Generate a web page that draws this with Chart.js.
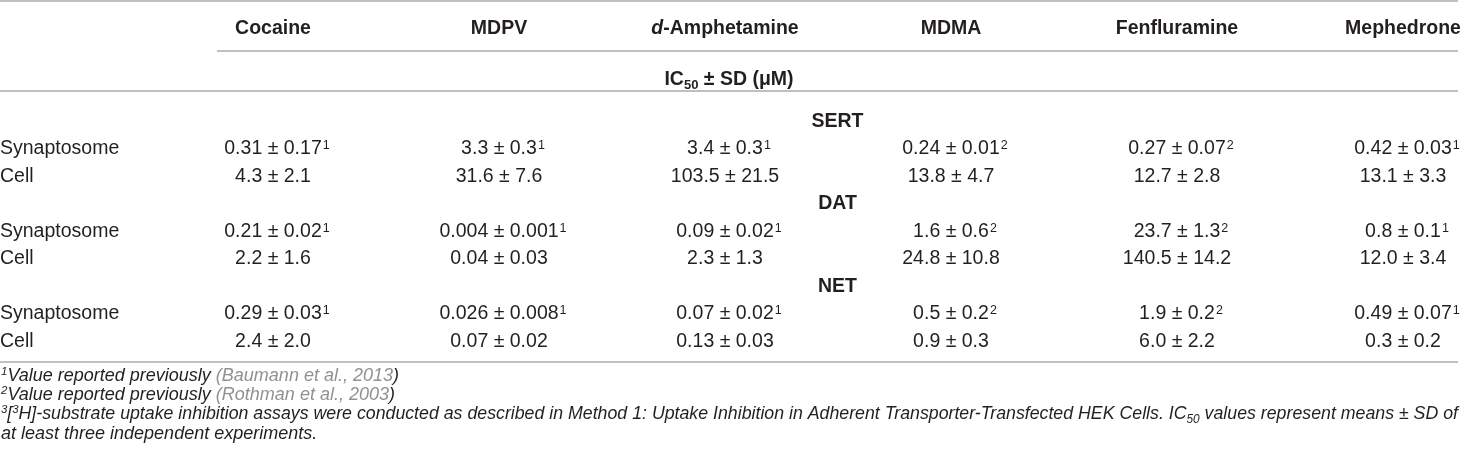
<!DOCTYPE html>
<html>
<head>
<meta charset="utf-8">
<script src="https://cdn.jsdelivr.net/npm/chart.js@4.4.1/dist/chart.umd.min.js"></script>
<style>
  html, body { margin: 0; padding: 0; background: #ffffff; }
  #wrap { width: 1460px; height: 471px; position: relative; }
</style>
</head>
<body>
<div id="wrap"><canvas id="c" width="1460" height="471"></canvas></div>
<script>
// ---------------- DATA ----------------
const drugs = ['Cocaine', 'MDPV', 'd-Amphetamine', 'MDMA', 'Fenfluramine', 'Mephedrone'];
const transporters = ['SERT', 'DAT', 'NET'];
const preparations = ['Synaptosome', 'Cell'];
const unitLabel = 'IC50 ± SD (μM)';

const sertSynaptosome = ['0.31 ± 0.17', '3.3 ± 0.3', '3.4 ± 0.3', '0.24 ± 0.01', '0.27 ± 0.07', '0.42 ± 0.03'];
const sertSynaptosomeRef = [1, 1, 1, 2, 2, 1];
const sertCell = ['4.3 ± 2.1', '31.6 ± 7.6', '103.5 ± 21.5', '13.8 ± 4.7', '12.7 ± 2.8', '13.1 ± 3.3'];

const datSynaptosome = ['0.21 ± 0.02', '0.004 ± 0.001', '0.09 ± 0.02', '1.6 ± 0.6', '23.7 ± 1.3', '0.8 ± 0.1'];
const datSynaptosomeRef = [1, 1, 1, 2, 2, 1];
const datCell = ['2.2 ± 1.6', '0.04 ± 0.03', '2.3 ± 1.3', '24.8 ± 10.8', '140.5 ± 14.2', '12.0 ± 3.4'];

const netSynaptosome = ['0.29 ± 0.03', '0.026 ± 0.008', '0.07 ± 0.02', '0.5 ± 0.2', '1.9 ± 0.2', '0.49 ± 0.07'];
const netSynaptosomeRef = [1, 1, 1, 2, 2, 1];
const netCell = ['2.4 ± 2.0', '0.07 ± 0.02', '0.13 ± 0.03', '0.9 ± 0.3', '6.0 ± 2.2', '0.3 ± 0.2'];

const footnote1 = ['Value reported previously ', 'Baumann et al., 2013'];
const footnote2 = ['Value reported previously ', 'Rothman et al., 2003'];
const footnote3 = 'H]-substrate uptake inhibition assays were conducted as described in Method 1: Uptake Inhibition in Adherent Transporter-Transfected HEK Cells.';
const footnote3b = ' values represent means ± SD of';
const footnote4 = 'at least three independent experiments.';

// ---------------- BUILD ----------------
const tableRows = [
  { group: 0, prep: 0, values: sertSynaptosome, refs: sertSynaptosomeRef },
  { group: 0, prep: 1, values: sertCell, refs: null },
  { group: 1, prep: 0, values: datSynaptosome, refs: datSynaptosomeRef },
  { group: 1, prep: 1, values: datCell, refs: null },
  { group: 2, prep: 0, values: netSynaptosome, refs: netSynaptosomeRef },
  { group: 2, prep: 1, values: netCell, refs: null }
];
const rowIndex = r => r.group * 3 + 1 + r.prep;

const datasets = tableRows.map(r => ({
  label: transporters[r.group] + ' ' + preparations[r.prep],
  data: r.values.map((v, i) => ({ x: i, y: rowIndex(r) })),
  pointRadius: 0,
  pointHoverRadius: 0,
  showLine: false
}));
// invisible anchor dataset for group heading rows
datasets.push({
  label: 'groups',
  data: transporters.map((t, g) => ({ x: 2.5, y: g * 3 })),
  pointRadius: 0, pointHoverRadius: 0, showLine: false
});

const FAM = '"Liberation Sans", Arial, Helvetica, sans-serif';
const INK = '#231f20';
const GREY = '#8f9194';
const RULE = '#a9abad';
const BODY = 19.5;
const FOOT = 18;

function fontStr(r) {
  return (r.style || 'normal') + ' ' + (r.weight || 'normal') + ' ' + r.size + 'px ' + FAM;
}
// draw rich text runs; anchor width excludes runs flagged sup (trailing)
function drawRich(ctx, runs, x, y, align, scaleX) {
  let anchorW = 0, totalW = 0;
  runs.forEach(r => {
    ctx.font = fontStr(r);
    r.w = ctx.measureText(r.text).width + (r.gap || 0);
    totalW += r.w;
    if (!r.trail) anchorW += r.w;
  });
  let k = scaleX || 1;
  let start = x;
  if (align === 'center') start = x - anchorW / 2;
  ctx.save();
  ctx.translate(start, y);
  ctx.scale(k, 1);
  ctx.textBaseline = 'alphabetic';
  ctx.textAlign = 'left';
  let cx = 0;
  runs.forEach(r => {
    ctx.font = fontStr(r);
    ctx.fillStyle = r.color || INK;
    ctx.fillText(r.text, cx + (r.gap || 0), r.dy || 0);
    cx += r.w;
  });
  ctx.restore();
  return totalW;
}
function measureRich(ctx, runs) {
  let w = 0;
  runs.forEach(r => { ctx.font = fontStr(r); w += ctx.measureText(r.text).width + (r.gap || 0); });
  return w;
}
// baseline from visual (cap) center
const base = (cy, size) => cy + size * 0.358;

const tablePlugin = {
  id: 'tablePlugin',
  afterDraw(chart) {
    const ctx = chart.ctx;
    const ca = chart.chartArea;
    const xs = chart.scales.x, ys = chart.scales.y;
    const W = chart.width;
    const right = W - 2;

    // rules
    ctx.save();
    ctx.strokeStyle = RULE;
    ctx.lineWidth = 1.6;
    const hline = (x0, x1, y) => { ctx.beginPath(); ctx.moveTo(x0, y); ctx.lineTo(x1, y); ctx.stroke(); };
    hline(0, right, ca.top - 119);
    hline(217, right, ca.top - 69);
    hline(0, right, ca.top - 29);
    hline(0, right, ca.bottom + 22);
    ctx.restore();

    // column headers
    const hy = base(ca.top - 93, BODY);
    drugs.forEach((d, i) => {
      const x = xs.getPixelForValue(i);
      let runs;
      if (d.startsWith('d-')) {
        runs = [{ text: 'd', size: BODY, weight: 'bold', style: 'italic' },
                { text: d.slice(1), size: BODY, weight: 'bold' }];
      } else {
        runs = [{ text: d, size: BODY, weight: 'bold' }];
      }
      drawRich(ctx, runs, x, hy, 'center');
    });

    // IC50 ± SD (μM) spanning whole table
    const uy = base(ca.top - 42, BODY);
    const uRuns = [
      { text: unitLabel.slice(0, 2), size: BODY, weight: 'bold' },
      { text: unitLabel.slice(2, 4), size: 13, weight: 'bold', dy: 4 },
      { text: unitLabel.slice(4), size: BODY, weight: 'bold' }
    ];
    drawRich(ctx, uRuns, (0 + right) / 2, uy, 'center');

    // group headings (centered over data columns)
    const gMeta = chart.getDatasetMeta(datasets.length - 1);
    transporters.forEach((t, g) => {
      const p = gMeta.data[g];
      drawRich(ctx, [{ text: t, size: BODY, weight: 'bold' }], (217 + right) / 2, base(p.y, BODY), 'center');
    });

    // body cells
    tableRows.forEach((r, ri) => {
      const meta = chart.getDatasetMeta(ri);
      const y0 = meta.data[0].y;
      drawRich(ctx, [{ text: preparations[r.prep], size: BODY }], 0, base(y0, BODY), 'left');
      r.values.forEach((v, i) => {
        const el = meta.data[i];
        const runs = [{ text: v, size: BODY }];
        if (r.refs) runs.push({ text: String(r.refs[i]), size: 12.5, dy: -5, trail: true, gap: 1 });
        drawRich(ctx, runs, el.x, base(el.y, BODY), 'center');
      });
    });

    // footnotes
    const fy = [35, 54, 73, 93].map(d => base(ca.bottom + d, FOOT));
    const it = 'italic';
    drawRich(ctx, [
      { text: '1', size: 11.5, style: it, dy: -6 },
      { text: footnote1[0], size: FOOT, style: it },
      { text: '(', size: FOOT, style: it, color: GREY },
      { text: footnote1[1], size: FOOT, style: it, color: GREY },
      { text: ')', size: FOOT, style: it }
    ], 1, fy[0], 'left');
    drawRich(ctx, [
      { text: '2', size: 11.5, style: it, dy: -6 },
      { text: footnote2[0], size: FOOT, style: it },
      { text: '(', size: FOOT, style: it, color: GREY },
      { text: footnote2[1], size: FOOT, style: it, color: GREY },
      { text: ')', size: FOOT, style: it }
    ], 1, fy[1], 'left');
    const l3 = [
      { text: '3', size: 11.5, style: it, dy: -6 },
      { text: '[', size: FOOT, style: it },
      { text: '3', size: 11.5, style: it, dy: -6 },
      { text: footnote3 + ' IC', size: FOOT, style: it },
      { text: '50', size: 12, style: it, dy: 4 },
      { text: footnote3b, size: FOOT, style: it }
    ];
    const w3 = measureRich(ctx, l3);
    const k3 = (right - 1) / w3;
    drawRich(ctx, l3, 1, fy[2], 'left', k3);
    drawRich(ctx, [{ text: footnote4, size: FOOT, style: it }], 1, fy[3], 'left');
  }
};

new Chart(document.getElementById('c'), {
  type: 'scatter',
  data: { datasets },
  options: {
    responsive: false,
    animation: false,
    devicePixelRatio: 1,
    layout: { padding: { left: 273, right: 57, top: 120, bottom: 131 } },
    plugins: { legend: { display: false }, tooltip: { enabled: false } },
    events: [],
    scales: {
      x: { type: 'linear', min: 0, max: drugs.length - 1, display: false },
      y: { type: 'linear', min: 0, max: transporters.length * 3 - 1, reverse: true, display: false }
    }
  },
  plugins: [tablePlugin]
});
</script>
</body>
</html>
